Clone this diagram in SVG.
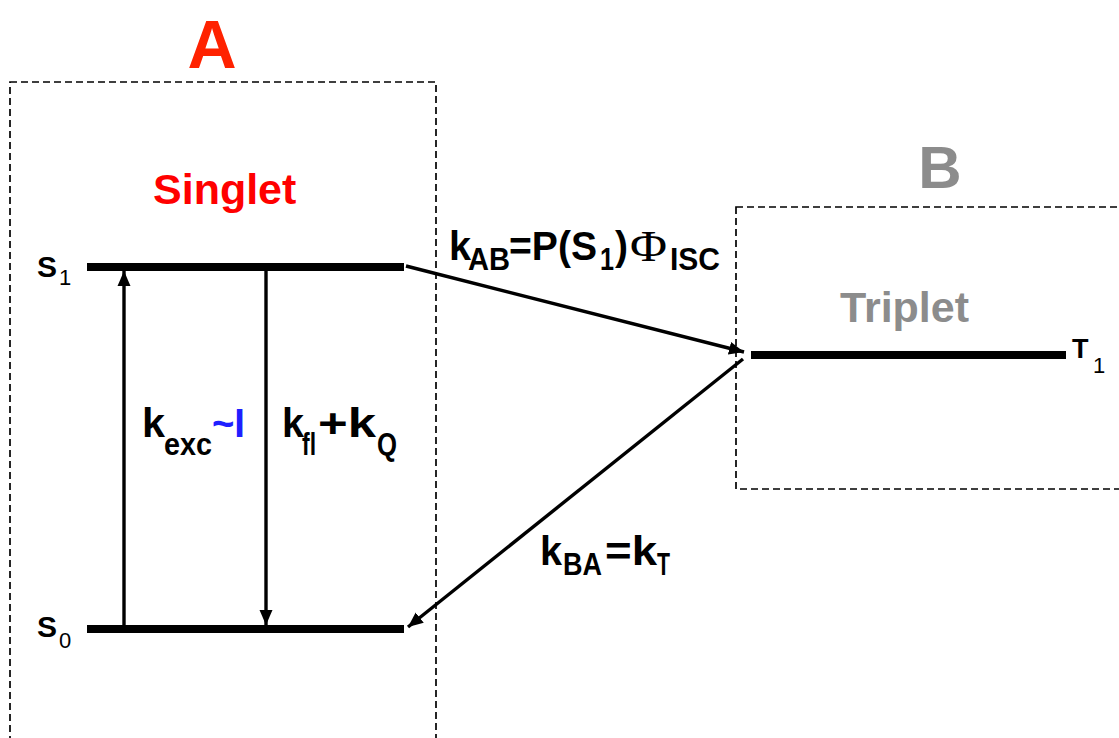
<svg xmlns="http://www.w3.org/2000/svg" width="1119" height="738" viewBox="0 0 1119 738">
<style>
.box{fill:none;stroke:#000;stroke-width:1.7;stroke-dasharray:7 4}
.lvl{stroke:#000;stroke-width:8}
.arr{stroke:#000;stroke-width:3.4;fill:none}
.t{font-family:"Liberation Sans",Arial,sans-serif;font-weight:bold;fill:#000}
.sub{font-size:31px}
.n{font-weight:normal}
</style>
<defs>
<marker id="ah" markerUnits="userSpaceOnUse" markerWidth="16" markerHeight="14" refX="15" refY="7" orient="auto">
<path d="M0,0.5 L15,7 L0,13.5 z" fill="#000"/>
</marker>
</defs>
<g id="boxA">
<rect class="box" x="10" y="82" width="426" height="680"/>
<text class="t" x="212" y="68" font-size="68" text-anchor="middle" style="fill:#ff2200">A</text>
<text class="t" x="153" y="204" font-size="43" style="fill:#ff0000">Singlet</text>
</g>
<g id="boxB">
<rect class="box" x="736" y="207" width="420" height="282"/>
<text class="t" x="940" y="188" font-size="60" text-anchor="middle" style="fill:#8c8c8c">B</text>
<text class="t" x="840" y="322" font-size="43" style="fill:#8c8c8c">Triplet</text>
</g>
<g id="S1">
<line class="lvl" x1="87" y1="267" x2="404" y2="267"/>
<text class="t" x="37" y="277" font-size="30">S</text>
<text class="t n" x="59" y="285" font-size="22">1</text>
</g>
<g id="S0">
<line class="lvl" x1="87" y1="629" x2="404" y2="629"/>
<text class="t" x="37" y="637" font-size="30">S</text>
<text class="t n" x="59" y="648" font-size="22">0</text>
</g>
<g id="T1">
<line class="lvl" x1="751" y1="355" x2="1066" y2="355"/>
<text class="t" x="1072" y="358" font-size="27">T</text>
<text class="t n" x="1093" y="373" font-size="22">1</text>
</g>
<g id="connectors">
<line class="arr" x1="124" y1="625" x2="124" y2="271" marker-end="url(#ah)"/>
<line class="arr" x1="266" y1="271" x2="266" y2="625" marker-end="url(#ah)"/>
<line class="arr" x1="406" y1="266" x2="744" y2="352" marker-end="url(#ah)"/>
<line class="arr" x1="743" y1="359" x2="408" y2="627" marker-end="url(#ah)"/>
</g>
<g id="labels">
<text class="t" font-size="41" y="437"><tspan x="142" textLength="23" lengthAdjust="spacingAndGlyphs">k</tspan><tspan class="sub" x="164" y="455" textLength="48" lengthAdjust="spacingAndGlyphs">exc</tspan><tspan x="212" y="437" textLength="33" lengthAdjust="spacingAndGlyphs" style="fill:#1f1fff">~I</tspan></text>
<text class="t" font-size="41" y="437"><tspan x="282" textLength="22" lengthAdjust="spacingAndGlyphs">k</tspan><tspan class="sub" x="302" y="455" textLength="14" lengthAdjust="spacingAndGlyphs">fl</tspan><tspan x="318" y="437" textLength="58" lengthAdjust="spacingAndGlyphs">+k</tspan><tspan class="sub" x="377" y="455" textLength="20" lengthAdjust="spacingAndGlyphs">Q</tspan></text>
<text class="t" font-size="41" y="260"><tspan x="449" textLength="22" lengthAdjust="spacingAndGlyphs">k</tspan><tspan class="sub" x="468" y="270" textLength="42" lengthAdjust="spacingAndGlyphs">AB</tspan><tspan x="509" y="260" textLength="88" lengthAdjust="spacingAndGlyphs">=P(S</tspan><tspan class="sub" x="600" y="270" textLength="14" lengthAdjust="spacingAndGlyphs">1</tspan><tspan x="615" y="260" textLength="13" lengthAdjust="spacingAndGlyphs">)</tspan><tspan x="630" y="261" font-size="44" textLength="37" lengthAdjust="spacingAndGlyphs" style="font-family:'Liberation Serif',serif;font-weight:normal">Φ</tspan><tspan class="sub" x="670" y="270" textLength="50" lengthAdjust="spacingAndGlyphs">ISC</tspan></text>
<text class="t" font-size="41" y="565"><tspan x="540" textLength="22" lengthAdjust="spacingAndGlyphs">k</tspan><tspan class="sub" x="563" y="575" textLength="39" lengthAdjust="spacingAndGlyphs">BA</tspan><tspan x="605" y="565" textLength="52" lengthAdjust="spacingAndGlyphs">=k</tspan><tspan class="sub" x="657" y="575" textLength="13" lengthAdjust="spacingAndGlyphs">T</tspan></text>
</g>
</svg>
